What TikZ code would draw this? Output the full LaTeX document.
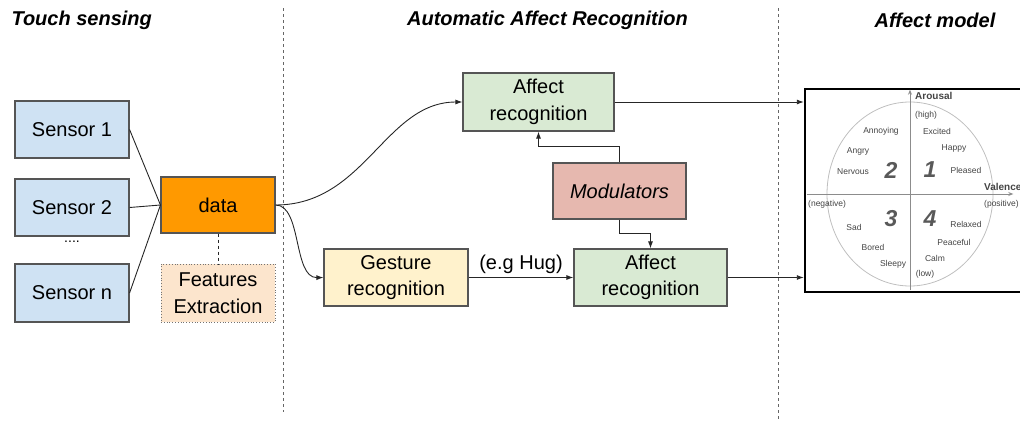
\documentclass[tikz,border=0pt]{standalone}
\usepackage{fontspec}
\setmainfont{Liberation Sans}
\usetikzlibrary{arrows.meta,calc}
\definecolor{sensorfill}{HTML}{CFE2F3}
\definecolor{datafill}{HTML}{FF9900}
\definecolor{featfill}{HTML}{FCE5CD}
\definecolor{affectfill}{HTML}{D9EAD3}
\definecolor{modfill}{HTML}{E6B8AF}
\definecolor{gestfill}{HTML}{FFF2CC}
\definecolor{boxline}{HTML}{555555}
\definecolor{lbl}{HTML}{444444}
\tikzset{
  box/.style={draw=boxline, line width=1.1pt, minimum width=#1, align=center, inner sep=0pt, font=\fontsize{20}{26.5}\selectfont},
  arr/.style={-{Latex[length=7pt,width=5pt]}, line width=0.9pt, draw=black!85},
  conn/.style={line width=0.9pt, draw=black!85},
  sep/.style={draw=black!60, line width=0.9pt, dash pattern=on 3pt off 3pt},
  head/.style={font=\fontsize{20}{23}\selectfont\bfseries\itshape},
  sm/.style={font=\fontsize{8.5}{10}\selectfont, text=lbl, inner sep=0pt},
  num/.style={font=\fontsize{23}{26}\selectfont\bfseries\itshape, text=black!65, inner sep=0pt},
  axis/.style={draw=black!45, line width=1pt}
}
\begin{document}
\begin{tikzpicture}[x=1pt,y=-1pt]
\useasboundingbox (0,0) rectangle (1020,423);
% separators
\draw[sep] (283,8) -- (283,412);
\draw[sep] (778,8) -- (778,420);
% headers
\node[head, anchor=west] (h1) at (8,20) {Touch sensing};
\node[head] (h2) at (547.5,20) {Automatic Affect Recognition};
\node[head] (h3) at (935,20) {Affect model};
% sensors
\node[box=114pt, minimum height=57pt, fill=sensorfill] (s1) at (72,129.5) {Sensor 1};
\node[box=114pt, minimum height=57pt, fill=sensorfill] (s2) at (72,207.5) {Sensor 2};
\node[box=114pt, minimum height=58pt, fill=sensorfill] (sn) at (72,293) {Sensor n};
\node[font=\fontsize{14}{16}\selectfont, inner sep=0pt] (dots) at (72,242) {....};
% data
\node[box=114pt, minimum height=56pt, fill=datafill] (data) at (218,205) {data};
\node[box=114pt, minimum height=58pt, fill=featfill, draw=black!55, line width=0.8pt, dotted] (fe) at (218,293) {Features\\Extraction};
\draw[conn] (s1.east) -- (data.west);
\draw[conn] (s2.east) -- (data.west);
\draw[conn] (sn.east) -- (data.west);
\draw[conn, dashed] (data.south) -- (fe.north);
% middle
\node[box=151pt, minimum height=58pt, fill=affectfill] (at) at (538.5,102) {Affect\\recognition};
\node[box=133pt, minimum height=56pt, fill=modfill, font=\fontsize{20}{23}\selectfont\itshape] (mod) at (619.5,191) {Modulators};
\node[box=144pt, minimum height=57pt, fill=gestfill] (gr) at (396,277.5) {Gesture\\recognition};
\node[box=153pt, minimum height=57pt, fill=affectfill] (ab) at (650.5,277.5) {Affect\\recognition};
\draw[arr] (data.east) .. controls (365,205) and (385,102) .. (at.west);
\draw[arr] (data.east) .. controls (302,205) and (293,278) .. (gr.west);
\draw[arr] (gr.east) -- node[midway, above=3pt, font=\fontsize{20}{23}\selectfont, inner sep=0pt] (hug) {(e.g Hug)} (ab.west);
\draw[arr] (mod.north) -- ++(0,-16) -| (at.south);
\draw[arr] (mod.south) -- ++(0,14) -| (ab.north);
% affect model
\begin{scope}
\clip (780,0) rectangle (1020,423);
\node[draw=black, line width=2.4pt, minimum width=240pt, minimum height=203pt, inner sep=0pt] (am) at (925,190.5) {};
\draw[draw=black!25, line width=0.8pt] (910,194) ellipse (83pt and 92pt);
\node[inner sep=0pt] (xl) at (806,194) {};
\node[inner sep=0pt] (xr) at (1014,194) {};
\node[inner sep=0pt] (yb) at (910,291) {};
\node[inner sep=0pt] (yt) at (910,89) {};
\draw[axis, -{Stealth[length=5pt,width=4pt]}] (xl) -- (xr);
\draw[axis, -{Stealth[length=5pt,width=4pt]}] (yb) -- (yt);
\node[sm, anchor=west, font=\fontsize{10}{12}\selectfont\bfseries] (aro) at (915,96) {Arousal};
\node[sm, anchor=west] (high) at (915,115) {(high)};
\node[sm, anchor=west, font=\fontsize{10}{12}\selectfont\bfseries] (val) at (984,187) {Valence};
\node[sm, anchor=west] (neg) at (808,204) {(negative)};
\node[sm, anchor=west] (pos) at (984,204) {(positive)};
\node[sm] (low) at (925,274) {(low)};
\node[sm] (e1) at (937,131) {Excited};
\node[sm] (e2) at (954,148) {Happy};
\node[sm] (e3) at (966,170) {Pleased};
\node[sm] (e4) at (881,131) {Annoying};
\node[sm] (e5) at (858,151) {Angry};
\node[sm] (e6) at (853,172) {Nervous};
\node[sm] (e7) at (854,227) {Sad};
\node[sm] (e8) at (873,247) {Bored};
\node[sm] (e9) at (893,264) {Sleepy};
\node[sm] (e10) at (966,224) {Relaxed};
\node[sm] (e11) at (954,242) {Peaceful};
\node[sm] (e12) at (935,258) {Calm};
\node[num] (n2) at (891,170) {2};
\node[num] (n1) at (930,170) {1};
\node[num] (n3) at (891,219) {3};
\node[num] (n4) at (930,219) {4};
\end{scope}
\draw[arr] (at.east) -- (am.west |- at.east);
\draw[arr] (ab.east) -- (am.west |- ab.east);
\end{tikzpicture}
\end{document}
